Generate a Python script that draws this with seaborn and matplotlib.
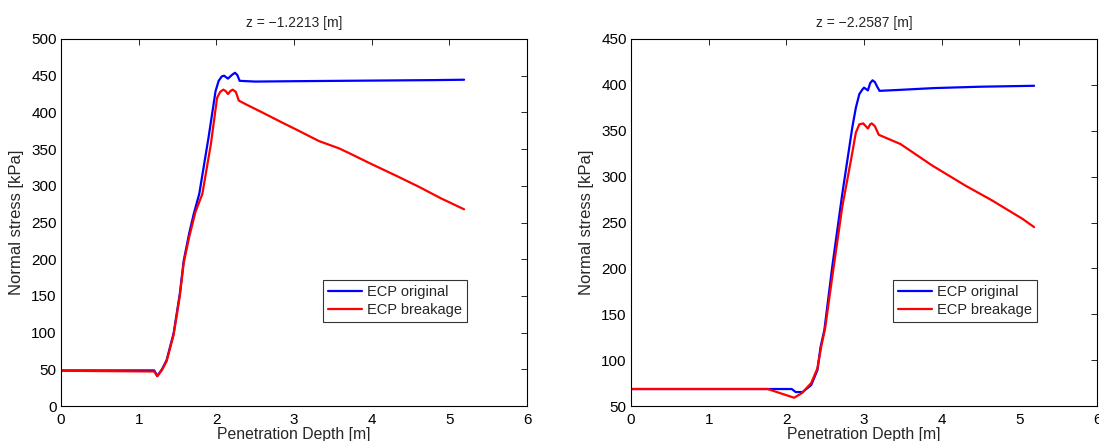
import numpy as np
import pandas as pd
import matplotlib
matplotlib.use("Agg")
import matplotlib.pyplot as plt
import seaborn as sns

# ---- data ----
titles = ["z = \u22121.2213 [m]", "z = \u22122.2587 [m]"]
series_names = ["ECP original", "ECP breakage"]

# left panel
l_orig_x = [0.0, 1.20, 1.24, 1.30, 1.36, 1.45, 1.53, 1.58, 1.65, 1.71, 1.78, 1.90, 1.99, 2.03, 2.07, 2.10, 2.15,
            2.20, 2.24, 2.27, 2.30, 2.5, 3.0, 3.58, 4.2, 4.8, 5.19]
l_orig_y = [48.5, 48.5, 41, 50, 62.5, 99, 153, 198, 235, 262, 289, 366, 429, 443, 449, 450, 446,
            451, 454, 451, 443, 442, 442.5, 443, 443.5, 444, 444.5]
l_brk_x = [0.0, 1.20, 1.24, 1.30, 1.36, 1.45, 1.53, 1.58, 1.65, 1.73, 1.82, 1.93, 2.01, 2.05, 2.09, 2.12, 2.15,
           2.18, 2.21, 2.25, 2.29, 2.40, 2.59, 2.85, 3.06, 3.32, 3.58, 3.72, 3.99, 4.31, 4.62, 4.89, 5.19]
l_brk_y = [48, 47, 40.5, 49, 61, 97, 150, 195, 230, 264, 289, 357, 420, 428, 431, 429, 425,
           429, 431, 428, 416, 410, 400, 386, 375, 361, 351, 344, 330, 314, 298, 283, 268]

# right panel
r_orig_x = [0.0, 1.76, 2.07, 2.12, 2.21, 2.32, 2.40, 2.44, 2.49, 2.59, 2.72, 2.85, 2.895, 2.94, 2.98, 3.00,
            3.05, 3.08, 3.11, 3.14, 3.17, 3.20, 3.45, 3.90, 4.50, 5.19]
r_orig_y = [68.5, 68.5, 68.5, 65.2, 65.2, 72.8, 89, 114, 133, 201, 281, 354, 375, 390, 395, 397,
            394, 402, 405, 403, 398, 393.5, 394.5, 396.5, 398, 399]
r_brk_x = [0.0, 1.76, 2.10, 2.20, 2.32, 2.40, 2.45, 2.50, 2.59, 2.72, 2.83, 2.895, 2.94, 2.99, 3.05, 3.08,
           3.10, 3.14, 3.19, 3.47, 3.88, 4.31, 4.65, 5.04, 5.19]
r_brk_y = [68.5, 68.5, 59, 64, 75, 91, 115, 135, 190, 267, 317, 348, 357, 358, 352.5, 357,
           358, 355, 345.6, 335.5, 312, 290, 274, 254, 245]

y_limits = [(0, 500), (50, 450)]
y_ticks = [list(range(0, 501, 50)), list(range(50, 451, 50))]
x_ticks = list(range(0, 7))

panels = [
    (l_orig_x, l_orig_y, l_brk_x, l_brk_y),
    (r_orig_x, r_orig_y, r_brk_x, r_brk_y),
]

sns.set_style("white")
plt.rcParams["font.family"] = ["Liberation Sans", "DejaVu Sans"]
plt.rcParams["axes.unicode_minus"] = True

fig = plt.figure(figsize=(10.99, 4.41), dpi=100)
W, H = 1099, 441
axes_boxes = [(61, 39, 466, 367), (631, 39, 466, 367)]

palette = {"ECP original": "#0000ff", "ECP breakage": "#ff0000"}

for i, (ox, oy, bx, by) in enumerate(panels):
    x0, y0, w, h = axes_boxes[i]
    ax = fig.add_axes([x0 / W, 1 - (y0 + h) / H, w / W, h / H])
    df = pd.concat([
        pd.DataFrame({"x": ox, "y": oy, "s": series_names[0]}),
        pd.DataFrame({"x": bx, "y": by, "s": series_names[1]}),
    ])
    sns.lineplot(data=df, x="x", y="y", hue="s", palette=palette, sort=False,
                 estimator=None, linewidth=1.6, ax=ax)
    ax.set_xlim(0, 6)
    ax.set_ylim(*y_limits[i])
    ax.set_xticks(x_ticks)
    ax.set_yticks(y_ticks[i])
    ax.tick_params(direction="in", top=True, right=True, length=4, width=0.6,
                   labelsize=11, colors="black")
    ax.tick_params(axis="x", pad=5)
    ax.tick_params(axis="y", pad=3)
    for sp in ax.spines.values():
        sp.set_visible(True)
        sp.set_color("black")
        sp.set_linewidth(0.8)
    ax.set_title(titles[i], fontsize=10, pad=9)
    ax.set_xlabel("Penetration Depth [m]", fontsize=11.3, labelpad=0)
    ax.set_ylabel("Normal stress [kPa]", fontsize=12, labelpad=5)
    leg = ax.legend(loc="lower right", bbox_to_anchor=(0.871, 0.228), fontsize=10.5,
                    frameon=True, fancybox=False, handlelength=2.3,
                    borderpad=0.35, labelspacing=0.3, handletextpad=0.35,
                    borderaxespad=0)
    leg.get_frame().set_edgecolor("black")
    leg.get_frame().set_linewidth(0.8)
    leg.set_title(None)

fig.savefig("out.png", dpi=100)
